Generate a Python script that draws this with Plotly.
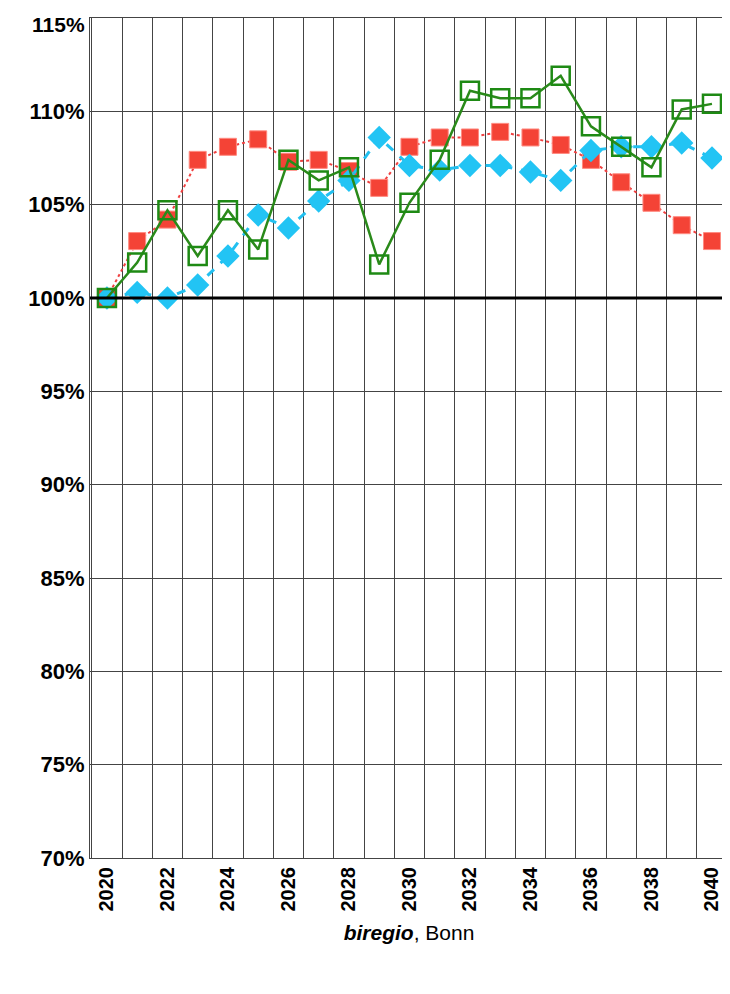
import plotly.graph_objects as go

years = list(range(2020, 2041))
red = [100, 103.05, 104.2, 107.4, 108.1, 108.5, 107.3, 107.4, 106.8, 105.9, 108.1, 108.6, 108.6, 108.9, 108.6, 108.2, 107.4, 106.2, 105.1, 103.9, 103.05]
green = [100, 101.9, 104.7, 102.25, 104.7, 102.6, 107.4, 106.3, 107.0, 101.8, 105.1, 107.4, 111.1, 110.7, 110.7, 111.9, 109.2, 108.1, 107.0, 110.1, 110.4]
blue = [100, 100.3, 100.0, 100.7, 102.25, 104.45, 103.75, 105.2, 106.3, 108.6, 107.1, 106.85, 107.1, 107.1, 106.75, 106.3, 107.9, 108.1, 108.1, 108.3, 107.5]
yticks = [70, 75, 80, 85, 90, 95, 100, 105, 110, 115]

fig = go.Figure()
fig.add_shape(type="line", xref="paper", x0=0, x1=1, y0=100, y1=100, line=dict(color="black", width=3))
fig.add_trace(go.Scatter(x=years, y=red, mode="lines+markers",
    line=dict(color="#f04040", width=2, dash="dot"),
    marker=dict(symbol="square", size=17, color="#f44336", line=dict(color="#ff8a80", width=1))))
fig.add_trace(go.Scatter(x=years, y=blue, mode="lines+markers",
    line=dict(color="#22c0f0", width=3, dash="dash"),
    marker=dict(symbol="diamond", size=18, color="#22c4f4")))
fig.add_trace(go.Scatter(x=years, y=green, mode="lines+markers",
    line=dict(color="#2a8a1a", width=2.5),
    marker=dict(symbol="square-open", size=18, color="#1e8a14", line=dict(width=2.5))))

top = yticks[-1]
fig.add_annotation(x=0, xref="paper", y=top, yref="y", xanchor="right", yanchor="top",
                   xshift=-3, yshift=7, text=f"<b>{top}%</b>", showarrow=False, font=dict(size=21))

fig.update_layout(
    width=720, height=984, showlegend=False,
    margin=dict(l=82, r=0, t=10, b=134, autoexpand=False),
    plot_bgcolor="white", paper_bgcolor="white",
    font=dict(family="Liberation Sans", size=20, color="black"),
    xaxis=dict(range=[2019.44, 2040.53], tickmode="array", tickvals=years[::2],
               ticktext=[f"<b>{y}</b>" for y in years[::2]], tickangle=-90,
               showgrid=False, zeroline=False, ticks="", tickfont=dict(size=20),
               showline=True, linecolor="#444", mirror=True, automargin=False,
               minor=dict(tick0=2019.5, dtick=1, showgrid=True, gridcolor="#444", gridwidth=1.2),
               title=dict(text="<b><i>biregio</i></b>, Bonn", font=dict(size=21), standoff=14)),
    yaxis=dict(range=[70, 115], tickvals=yticks, ticktext=[f"<b>{v}%</b>" for v in yticks],
               showgrid=True, gridcolor="#444", gridwidth=1.2, zeroline=False, ticks="",
               showline=True, linecolor="#444", mirror=True, tickfont=dict(size=22), automargin=False),
)
fig.write_html("out.html")
